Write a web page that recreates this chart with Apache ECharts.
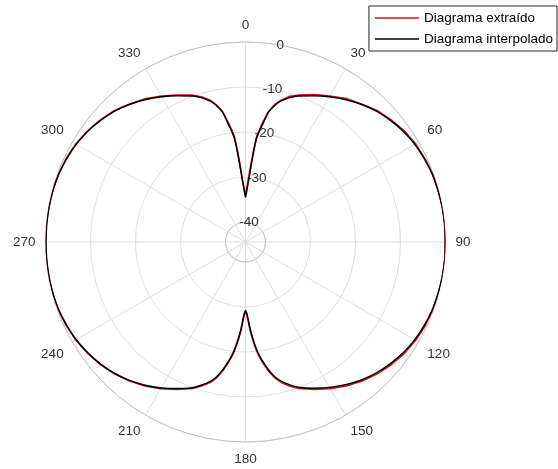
<!DOCTYPE html>
<html>
<head>
<meta charset="utf-8">
<script src="https://cdn.jsdelivr.net/npm/echarts@6/dist/echarts.min.js"></script>
<style>html,body{margin:0;padding:0;background:#fff}#c{width:558px;height:469px}</style>
</head>
<body>
<div id="c"></div>
<script>
// angles in degrees (0 = top, clockwise)
const anglesDeg = [0,1,2,3,4,5,6,7,8,10,12,14,17,20,25,30,35,40,45,50,55,60,65,70,75,80,85,90,
  95,100,105,110,115,120,125,130,135,140,145,150,155,160,163,166,168,170,172,173,174,175,176,177,178,179,180,
  181,182,183,184,185,186,187,188,190,192,194,197,200,205,210,215,220,225,230,235,240,245,250,255,260,265,270,
  275,280,285,290,295,300,305,310,315,320,325,330,335,340,343,346,348,350,352,353,354,355,356,357,358,359,360];

// "Diagrama interpolado" (dB)
const interpDb = [-34.5,-33.6,-32.2,-30.5,-28.0,-24.8,-21.5,-19.8,-18.4,-15.2,-13.5,-12.2,-10.9,-9.9,-8.6,-7.2,-5.8,-4.5,-3.3,-2.4,-1.6,-1.0,-0.6,-0.3,-0.15,-0.05,0,0,
  0,-0.05,-0.15,-0.3,-0.6,-1.0,-1.6,-2.4,-3.3,-4.4,-5.7,-7.1,-8.6,-10.1,-11.3,-12.7,-14.0,-15.8,-17.9,-19.0,-20.3,-21.8,-23.5,-25.2,-27.2,-28.6,-29.2,
  -28.5,-27.0,-25.0,-23.3,-21.7,-20.2,-18.9,-17.8,-15.7,-13.9,-12.6,-11.2,-10.0,-8.5,-7.0,-5.6,-4.3,-3.2,-2.3,-1.6,-1.0,-0.6,-0.3,-0.15,-0.1,-0.1,-0.1,
  -0.1,-0.1,-0.15,-0.3,-0.6,-1.0,-1.6,-2.4,-3.3,-4.5,-5.8,-7.2,-8.6,-9.9,-10.9,-12.2,-13.5,-15.2,-18.4,-19.8,-21.5,-24.8,-28.0,-30.5,-32.2,-33.6,-34.5];

// "Diagrama extraído" (dB)
const extractDb = [-34.0,-33.0,-31.5,-29.8,-27.2,-24.2,-21.0,-19.5,-18.0,-15.0,-13.2,-12.0,-10.6,-9.7,-8.3,-7.0,-5.5,-4.4,-3.1,-2.2,-1.4,-0.8,-0.5,-0.2,-0.1,0,0,-0.1,
  0,0,-0.05,-0.2,-0.4,-0.8,-1.3,-2.1,-3.0,-4.1,-5.4,-6.8,-8.3,-9.8,-11.0,-12.4,-13.7,-15.4,-17.5,-18.6,-19.9,-21.4,-23.1,-24.8,-26.8,-28.2,-29.0,
  -28.3,-26.6,-24.6,-23.0,-21.4,-19.9,-18.6,-17.5,-15.4,-13.6,-12.3,-11.0,-9.8,-8.3,-6.8,-5.4,-4.2,-3.1,-2.2,-1.5,-0.9,-0.5,-0.25,-0.1,-0.05,0,0,
  0,-0.05,-0.1,-0.25,-0.5,-0.9,-1.5,-2.3,-3.2,-4.4,-5.6,-7.0,-8.4,-9.7,-10.7,-12.0,-13.3,-15.0,-18.0,-19.4,-21.0,-24.2,-27.4,-30.0,-31.8,-33.2,-34.0];

const angleTicks = [0,30,60,90,120,150,180,210,240,270,300,330];
const radiusTicks = [-40,-30,-20,-10,0];

const chart = echarts.init(document.getElementById('c'));
const center = [245.5, 242];
const gridColor = '#dedede';
const font = 'Liberation Sans, Arial, Helvetica, sans-serif';

function pairs(db) { return anglesDeg.map((a, i) => [db[i], a]); }

chart.setOption({
  animation: false,
  backgroundColor: '#fff',
  legend: {
    orient: 'vertical',
    right: 1,
    top: 6,
    backgroundColor: '#fff',
    borderColor: '#262626',
    borderWidth: 1,
    borderRadius: 0,
    padding: [4, 4, 4, 6],
    itemGap: 5,
    itemWidth: 44,
    itemHeight: 1.5,
    icon: 'rect',
    textStyle: { fontFamily: font, fontSize: 13.5, color: '#000', lineHeight: 16 },
    data: ['Diagrama extraído', 'Diagrama interpolado']
  },
  polar: [
    { center: center, radius: [20, 200] },
    { center: center, radius: [0, 20] },
    { center: center, radius: [20, 200] }
  ],
  angleAxis: [
    {
      polarIndex: 0, type: 'value', min: 0, max: 360, interval: 30, startAngle: 90, clockwise: true,
      axisLine: { show: true, lineStyle: { color: '#c4c4c4', width: 1 } },
      axisTick: { show: false },
      axisLabel: {
        show: true, margin: 10, color: '#333', fontFamily: font, fontSize: 13.5,
        formatter: v => (angleTicks.indexOf(v) >= 0 ? String(v) : '')
      },
      splitLine: { show: true, lineStyle: { color: gridColor, width: 1 } }
    },
    {
      polarIndex: 1, type: 'value', min: 0, max: 360, interval: 30, startAngle: 90, clockwise: true,
      axisLine: { show: false }, axisTick: { show: false }, axisLabel: { show: false },
      splitLine: { show: true, lineStyle: { color: gridColor, width: 1 } }
    },
    {
      polarIndex: 2, type: 'value', min: 0, max: 360, startAngle: 80, clockwise: true,
      axisLine: { show: false }, axisTick: { show: false }, axisLabel: { show: false }, splitLine: { show: false }
    }
  ],
  radiusAxis: [
    {
      polarIndex: 0, type: 'value', min: radiusTicks[0], max: radiusTicks[radiusTicks.length - 1], interval: 10,
      axisLine: { show: false }, axisTick: { show: false }, axisLabel: { show: false },
      splitLine: { show: true, lineStyle: { color: gridColor, width: 1 } }
    },
    {
      polarIndex: 1, type: 'value', min: 0, max: 1,
      axisLine: { show: false }, axisTick: { show: false }, axisLabel: { show: false }, splitLine: { show: false }
    },
    {
      polarIndex: 2, type: 'value', min: radiusTicks[0], max: radiusTicks[radiusTicks.length - 1], interval: 10,
      axisLine: { show: false }, axisTick: { show: false }, splitLine: { show: false },
      axisLabel: {
        show: true, margin: 0, rotate: 0, align: 'center', verticalAlign: 'middle',
        color: '#333', fontFamily: font, fontSize: 13.5, padding: [6, 0, 0, 0]
      }
    }
  ],
  series: [
    {
      name: 'Diagrama extraído', type: 'line', coordinateSystem: 'polar', polarIndex: 0,
      data: pairs(extractDb), showSymbol: false, symbol: 'none',
      lineStyle: { color: '#d3141c', width: 1.6 }, itemStyle: { color: '#d3141c' }, z: 3
    },
    {
      name: 'Diagrama interpolado', type: 'line', coordinateSystem: 'polar', polarIndex: 0,
      data: pairs(interpDb), showSymbol: false, symbol: 'none', smooth: 0.3,
      lineStyle: { color: '#000', width: 1.5 }, itemStyle: { color: '#000' }, z: 4
    }
  ]
});
</script>
</body>
</html>
